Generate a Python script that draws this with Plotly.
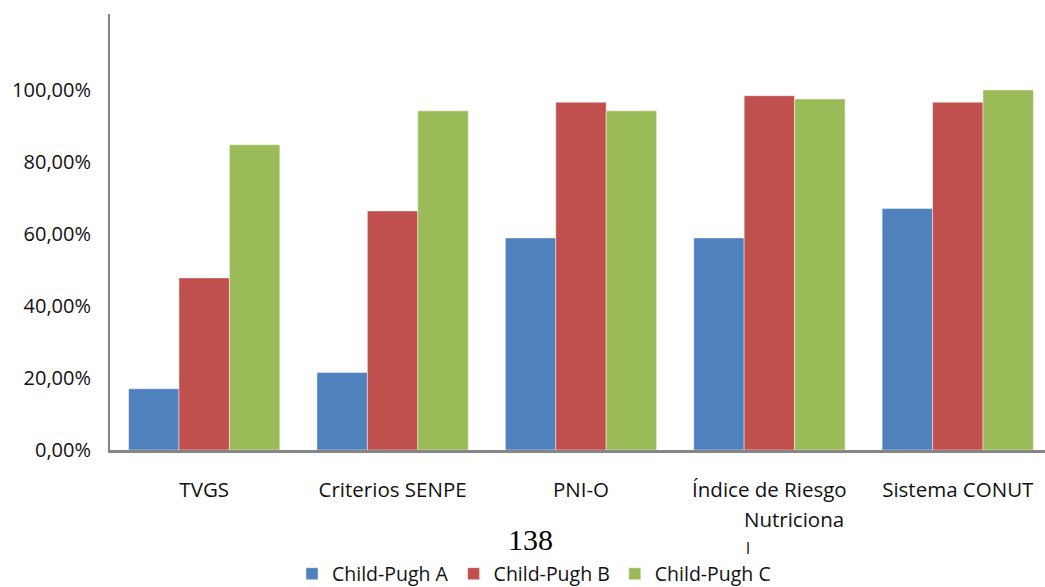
import plotly.graph_objects as go

# Sensitivity of each nutritional screening method by Child-Pugh class (%)
categories = ["TVGS", "Criterios SENPE", "PNI-O", "Índice de Riesgo", "Sistema CONUT"]
series_names = ["Child-Pugh A", "Child-Pugh B", "Child-Pugh C"]
child_pugh_a = [17.0, 21.5, 58.9, 58.9, 67.1]
child_pugh_b = [47.8, 66.4, 96.6, 98.4, 96.6]
child_pugh_c = [84.8, 94.2, 94.2, 97.5, 100.0]
y_ticks = [0, 20, 40, 60, 80, 100]
y_tick_labels = ["0,00%", "20,00%", "40,00%", "60,00%", "80,00%", "100,00%"]

colors = ["#4F81BD", "#C0504D", "#9BBB59"]
values = [child_pugh_a, child_pugh_b, child_pugh_c]

FONT = "Open Sans"
TEXT = "#111111"

fig = go.Figure()
for name, vals, col in zip(series_names, values, colors):
    fig.add_trace(go.Bar(
        name=name,
        x=list(range(len(categories))),
        y=vals,
        marker=dict(color=col, line=dict(color="rgba(255,255,255,0.45)", width=1)),
    ))

fig.update_layout(
    width=1045,
    height=587,
    margin=dict(l=110, r=0, t=14, b=137),
    paper_bgcolor="white",
    plot_bgcolor="white",
    barmode="group",
    bargap=0.197,
    bargroupgap=0,
    font=dict(family=FONT, size=20, color=TEXT),
    showlegend=True,
    legend=dict(
        orientation="h",
        xref="container", yref="container",
        x=534 / 1045, y=(587 - 574) / 587,
        xanchor="center", yanchor="middle",
        font=dict(family=FONT, size=19.5, color=TEXT),
        itemwidth=30,
        tracegroupgap=0,
    ),
    xaxis=dict(
        range=[-0.5, 4.463],
        tickmode="array",
        tickvals=list(range(len(categories))),
        ticktext=categories,
        showline=True,
        linecolor="#868686",
        linewidth=2.5,
        showgrid=False,
        zeroline=False,
        ticks="",
        ticklabelstandoff=20,
        tickfont=dict(family=FONT, size=20.5, color=TEXT),
    ),
    yaxis=dict(
        range=[0, 121.1],
        tickmode="array",
        tickvals=y_ticks,
        ticktext=y_tick_labels,
        showline=True,
        linecolor="#868686",
        linewidth=2,
        showgrid=False,
        zeroline=False,
        ticks="",
        ticklabelstandoff=13,
        tickfont=dict(family=FONT, size=20, color=TEXT),
    ),
)

# Remaining lines of the wrapped "Índice de Riesgo Nutricional" label
fig.add_annotation(text="Nutriciona", xref="paper", yref="paper",
                   x=(846 - 110) / 935, y=(450 - 519) / 436,
                   xanchor="right", yanchor="middle", showarrow=False,
                   font=dict(family=FONT, size=20.5, color=TEXT))
fig.add_annotation(text="l", xref="paper", yref="paper",
                   x=(744 - 110) / 935, y=(450 - 547.5) / 436,
                   xanchor="left", yanchor="middle", showarrow=False,
                   font=dict(family=FONT, size=16, color=TEXT))

# Page number
fig.add_annotation(text="138", xref="paper", yref="paper",
                   x=(530 - 110) / 935, y=(450 - 539) / 436,
                   xanchor="center", yanchor="middle", showarrow=False,
                   font=dict(family="Liberation Serif", size=30, color="#000000"))

fig.write_html("out.html")
